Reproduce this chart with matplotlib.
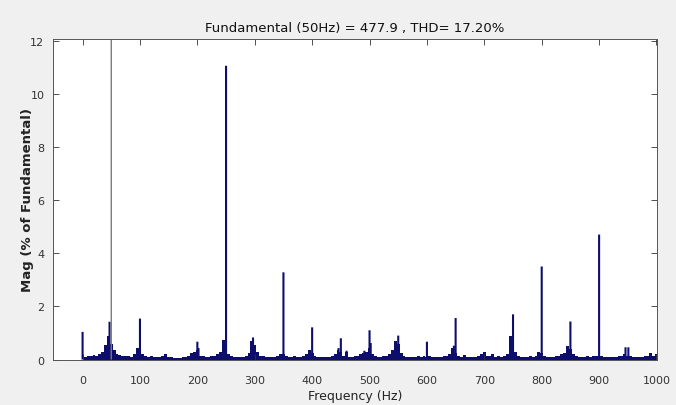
import numpy as np
import matplotlib
matplotlib.use("Agg")
import matplotlib.pyplot as plt

# Noise floor / harmonic skirts, one value per 5 Hz bin from 0 Hz to 1000 Hz
floor_mag = [
    0.0, 0.10, 0.15, 0.12, 0.18, 0.15, 0.20, 0.30, 0.55, 0.90,   # 0-45
    0.60, 0.35, 0.20, 0.18, 0.15, 0.12, 0.15, 0.10, 0.20, 0.45,  # 50-95
    0.30, 0.20, 0.15, 0.10, 0.12, 0.10, 0.08, 0.10, 0.15, 0.20,  # 100-145
    0.10, 0.08, 0.06, 0.05, 0.06, 0.08, 0.10, 0.12, 0.25, 0.30,  # 150-195
    0.35, 0.12, 0.15, 0.10, 0.10, 0.12, 0.15, 0.20, 0.30, 0.75,  # 200-245
    0.50, 0.20, 0.12, 0.10, 0.10, 0.08, 0.10, 0.12, 0.25, 0.70,  # 250-295
    0.55, 0.30, 0.15, 0.12, 0.10, 0.08, 0.10, 0.10, 0.15, 0.20,  # 300-345
    0.20, 0.12, 0.10, 0.08, 0.12, 0.08, 0.10, 0.15, 0.20, 0.35,  # 350-395
    0.25, 0.12, 0.10, 0.10, 0.08, 0.10, 0.08, 0.12, 0.20, 0.35,  # 400-445
    0.30, 0.15, 0.30, 0.10, 0.10, 0.12, 0.15, 0.20, 0.25, 0.30,  # 450-495
    0.45, 0.20, 0.12, 0.10, 0.10, 0.12, 0.15, 0.20, 0.35, 0.70,  # 500-545
    0.60, 0.25, 0.12, 0.10, 0.08, 0.08, 0.10, 0.12, 0.10, 0.15,  # 550-595
    0.10, 0.12, 0.10, 0.08, 0.08, 0.10, 0.12, 0.15, 0.20, 0.45,  # 600-645
    0.25, 0.12, 0.10, 0.18, 0.10, 0.08, 0.10, 0.10, 0.12, 0.20,  # 650-695
    0.28, 0.15, 0.12, 0.22, 0.10, 0.12, 0.10, 0.12, 0.20, 0.90,  # 700-745
    0.92, 0.30, 0.12, 0.10, 0.08, 0.10, 0.12, 0.10, 0.15, 0.30,  # 750-795
    0.25, 0.12, 0.10, 0.08, 0.10, 0.12, 0.15, 0.20, 0.25, 0.50,  # 800-845
    0.40, 0.20, 0.12, 0.10, 0.08, 0.10, 0.12, 0.10, 0.12, 0.15,  # 850-895
    0.15, 0.12, 0.10, 0.08, 0.10, 0.08, 0.10, 0.12, 0.15, 0.20,  # 900-945
    0.15, 0.12, 0.10, 0.10, 0.08, 0.10, 0.12, 0.15, 0.25, 0.15,  # 950-995
    0.20,                                                        # 1000
]
floor_freq = np.arange(len(floor_mag)) * 5.0

# Sharp spectral lines (Hz, % of fundamental)
peak_freq = [0, 47, 100, 200, 202, 250, 297, 350, 400, 446, 450, 460,
             491, 500, 502, 550, 600, 647, 650, 750, 800, 850, 900, 946, 951]
peak_mag = [1.04, 1.42, 1.54, 0.67, 0.43, 11.05, 0.83, 3.28, 1.21, 0.43, 0.80, 0.33,
            0.33, 1.10, 0.62, 0.90, 0.67, 0.52, 1.56, 1.70, 3.50, 1.43, 4.70, 0.46, 0.46]

fund_freq = 50
fund_mag = 100.0

title_text = "Fundamental (50Hz) = 477.9 , THD= 17.20%"
x_ticks = list(range(0, 1001, 100))
y_ticks = list(range(0, 13, 2))

bar_color = "#0d0d6e"

fig = plt.figure(figsize=(6.76, 4.06), dpi=100, facecolor="#f0f0f0")
ax = fig.add_axes([0.078, 0.112, 0.894, 0.789])
ax.set_facecolor("white")

ax.bar(floor_freq, floor_mag, width=5.0, color=bar_color, linewidth=0)
ax.vlines(peak_freq, 0, peak_mag, colors=bar_color, linewidth=1.5, snap=False)
ax.vlines([fund_freq], 0, [fund_mag], colors="#7a7a7a", linewidth=1.0, snap=False)

ax.set_xlim(-52, 1001)
ax.set_ylim(0, 12.05)
ax.set_xticks(x_ticks)
ax.set_yticks(y_ticks)
ax.tick_params(direction="in", top=True, right=True, length=4, width=0.6,
               labelsize=8, colors="#333333")
ax.tick_params(axis="x", pad=11)
ax.tick_params(axis="y", pad=6)
for s in ax.spines.values():
    s.set_color("#555555")
    s.set_linewidth(0.7)

ax.set_title(title_text, fontsize=9.5, pad=6, color="#111111")
ax.set_xlabel("Frequency (Hz)", fontsize=9, labelpad=3, color="#222222")
ax.set_ylabel("Mag (% of Fundamental)", fontsize=9.5, labelpad=-3,
              color="#222222", fontweight="semibold")

fig.savefig("out.png", dpi=100, facecolor=fig.get_facecolor())
